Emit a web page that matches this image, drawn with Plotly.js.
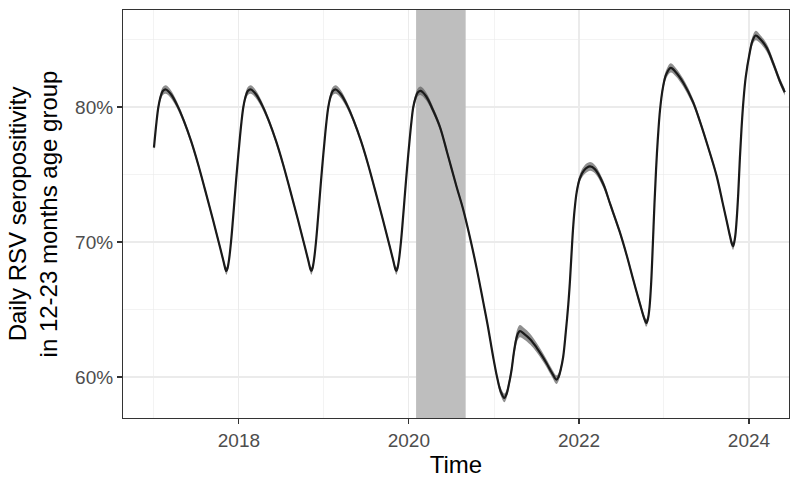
<!DOCTYPE html>
<html>
<head>
<meta charset="utf-8">
<script src="https://cdn.plot.ly/plotly-3.0.1.min.js"></script>
<style>html,body{margin:0;padding:0;background:#fff}#chart{width:804px;height:478px}</style>
</head>
<body>
<div id="chart"></div>
<script>
// Daily RSV seropositivity (%), 12-23 months age group
const dates = [
 '2017-01-01','2017-01-12','2017-01-20','2017-01-30','2017-02-09','2017-02-21','2017-03-15','2017-04-13','2017-05-10','2017-06-10','2017-07-09','2017-08-08','2017-09-13','2017-10-12','2017-10-27','2017-11-03','2017-11-08','2017-11-13','2017-11-20','2017-11-28','2017-12-06','2017-12-13','2017-12-20','2017-12-28',
 '2018-01-05','2018-01-12','2018-01-20','2018-01-30','2018-02-09','2018-02-21','2018-03-15','2018-04-13','2018-05-10','2018-06-10','2018-07-09','2018-08-08','2018-09-13','2018-10-12','2018-10-27','2018-11-03','2018-11-08','2018-11-13','2018-11-20','2018-11-28','2018-12-06','2018-12-13','2018-12-20','2018-12-28',
 '2019-01-05','2019-01-12','2019-01-20','2019-01-30','2019-02-09','2019-02-21','2019-03-15','2019-04-13','2019-05-10','2019-06-10','2019-07-09','2019-08-08','2019-09-13','2019-10-12','2019-10-27','2019-11-03','2019-11-08','2019-11-13','2019-11-20','2019-11-28','2019-12-06','2019-12-13','2019-12-20','2019-12-28',
 '2020-01-05','2020-01-12','2020-01-20','2020-01-30','2020-02-09','2020-02-21','2020-03-15','2020-04-13','2020-05-14','2020-06-14','2020-07-24','2020-08-20','2020-09-20','2020-10-20','2020-11-15','2020-12-05','2020-12-28',
 '2021-01-15','2021-01-30','2021-02-14','2021-02-24','2021-03-05','2021-03-17','2021-03-27','2021-04-05','2021-04-13','2021-04-22','2021-05-10','2021-06-05','2021-07-02','2021-07-25','2021-08-15','2021-09-05','2021-09-26','2021-10-05','2021-10-15','2021-10-25','2021-11-05','2021-11-16','2021-11-23','2021-11-29','2021-12-06','2021-12-13','2021-12-22',
 '2022-01-04','2022-01-22','2022-02-17','2022-03-10','2022-04-15','2022-05-15','2022-06-24','2022-07-25','2022-08-22','2022-09-20','2022-10-08','2022-10-17','2022-10-24','2022-10-31','2022-11-07','2022-11-14','2022-11-21','2022-11-28','2022-12-05','2022-12-15','2022-12-27',
 '2023-01-10','2023-01-30','2023-02-20','2023-03-25','2023-05-05','2023-06-05','2023-07-10','2023-08-15','2023-09-10','2023-09-28','2023-10-12','2023-10-20','2023-10-25','2023-11-02','2023-11-09','2023-11-16','2023-11-23','2023-11-30','2023-12-08','2023-12-18',
 '2024-01-04','2024-01-16','2024-01-30','2024-02-15','2024-03-17','2024-04-15','2024-05-12','2024-06-03'
];
const seropositivity = [
 77.0,78.9,80.0,80.8,81.2,81.3,80.95,80.05,78.95,77.45,75.8,73.9,71.55,69.6,68.55,68.05,67.85,68.05,68.75,70.0,71.6,73.1,74.6,76.2,
 77.7,78.9,80.0,80.8,81.2,81.3,80.95,80.05,78.95,77.45,75.8,73.9,71.55,69.6,68.55,68.05,67.85,68.05,68.75,70.0,71.6,73.1,74.6,76.2,
 77.7,78.9,80.0,80.8,81.2,81.3,80.95,80.05,78.95,77.45,75.8,73.9,71.55,69.6,68.55,68.05,67.85,68.05,68.75,70.0,71.6,73.1,74.6,76.2,
 77.7,78.9,80.0,80.7,81.1,81.2,80.8,79.8,78.5,76.6,74.1,72.5,70.3,67.9,65.6,63.8,61.5,
 59.9,58.9,58.45,58.75,59.4,60.5,61.8,62.7,63.2,63.4,63.2,62.8,62.2,61.6,61.0,60.35,59.8,60.0,60.6,61.5,63.3,65.4,67.1,68.9,70.9,72.4,73.7,
 74.7,75.3,75.6,75.4,74.3,72.8,70.8,69.0,67.2,65.4,64.35,64.0,64.3,65.2,67.0,69.8,72.8,75.4,77.5,79.8,81.4,
 82.4,82.9,82.6,81.8,80.4,78.9,77.0,74.9,72.9,71.5,70.4,69.85,69.7,70.3,71.6,73.6,76.2,78.4,80.4,82.2,
 84.0,84.9,85.3,85.1,84.4,83.2,81.95,81.1
];
const ciHalfWidth = [
 0.25,0.25,0.28,0.3,0.3,0.32,0.3,0.25,0.22,0.2,0.2,0.2,0.2,0.2,0.22,0.25,0.28,0.25,0.22,0.2,0.2,0.2,0.2,0.22,
 0.25,0.27,0.28,0.3,0.3,0.32,0.3,0.25,0.22,0.2,0.2,0.2,0.2,0.2,0.22,0.25,0.28,0.25,0.22,0.2,0.2,0.2,0.2,0.22,
 0.25,0.27,0.28,0.3,0.3,0.32,0.3,0.25,0.22,0.2,0.2,0.2,0.2,0.2,0.22,0.25,0.28,0.25,0.22,0.2,0.2,0.2,0.2,0.22,
 0.25,0.27,0.28,0.3,0.3,0.32,0.3,0.25,0.22,0.2,0.2,0.2,0.2,0.2,0.2,0.2,0.22,
 0.25,0.3,0.32,0.3,0.3,0.35,0.4,0.45,0.45,0.45,0.42,0.4,0.35,0.32,0.3,0.3,0.32,0.3,0.25,0.22,0.2,0.2,0.2,0.2,0.22,0.25,0.28,
 0.3,0.32,0.32,0.3,0.27,0.22,0.2,0.2,0.2,0.22,0.25,0.28,0.25,0.22,0.2,0.2,0.2,0.22,0.25,0.28,0.3,
 0.32,0.35,0.32,0.3,0.25,0.22,0.2,0.2,0.2,0.22,0.25,0.27,0.28,0.25,0.22,0.2,0.2,0.22,0.25,0.28,
 0.3,0.32,0.35,0.32,0.3,0.27,0.25,0.25
];
const shadeStart = '2020-02-01';
const shadeEnd = '2020-09-01';
const yTickVals = [60, 70, 80];
const yTickText = ['60%', '70%', '80%'];
const yMinorVals = [65, 75, 85];
const xRange = ['2016-08-21', '2024-06-21'];
const yRange = [56.96, 87.19];

const upper = seropositivity.map((v, i) => v + ciHalfWidth[i]);
const lower = seropositivity.map((v, i) => v - ciHalfWidth[i]);

const sm = 1.0;
const traces = [
  {x: [shadeStart, shadeEnd, shadeEnd, shadeStart, shadeStart], y: [yRange[0], yRange[0], yRange[1], yRange[1], yRange[0]],
   type: 'scatter', mode: 'lines', fill: 'toself', fillcolor: '#BEBEBE', line: {width: 0, color: '#BEBEBE'}, hoverinfo: 'skip', showlegend: false},
  {x: dates, y: upper, type: 'scatter', mode: 'lines', line: {width: 0, shape: 'spline', smoothing: sm}, hoverinfo: 'skip', showlegend: false},
  {x: dates, y: lower, type: 'scatter', mode: 'lines', line: {width: 0, shape: 'spline', smoothing: sm}, fill: 'tonexty', fillcolor: 'rgba(95,95,95,0.7)', hoverinfo: 'skip', showlegend: false},
  {x: dates, y: seropositivity, type: 'scatter', mode: 'lines', line: {color: '#1a1a1a', width: 2.2, shape: 'spline', smoothing: sm}, showlegend: false}
];

const layout = {
  width: 804, height: 478,
  margin: {l: 123, r: 15, t: 10, b: 60},
  paper_bgcolor: '#ffffff', plot_bgcolor: '#ffffff',
  font: {family: 'Liberation Sans, Arial, sans-serif', color: '#000000'},
  showlegend: false,
  xaxis: {
    type: 'date', range: xRange,
    tick0: '2018-01-01', dtick: 'M24', tickformat: '%Y',
    showgrid: true, gridcolor: '#EBEBEB', gridwidth: 1.1,
    minor: {dtick: 'M12', tick0: '2017-01-01', showgrid: true, gridcolor: '#EBEBEB', gridwidth: 0.6},
    ticks: 'outside', ticklen: 5, tickwidth: 1.1, tickcolor: '#333333',
    tickfont: {size: 19, color: '#4D4D4D'},
    showline: true, mirror: true, linecolor: '#333333', linewidth: 1.1,
    zeroline: false,
    title: {text: 'Time', font: {size: 24, color: '#000000'}, standoff: 4}
  },
  yaxis: {
    range: yRange,
    tickvals: yTickVals, ticktext: yTickText,
    showgrid: true, gridcolor: '#EBEBEB', gridwidth: 1.1,
    minor: {tickvals: yMinorVals, showgrid: true, gridcolor: '#EBEBEB', gridwidth: 0.6, ticks: ''},
    ticks: 'outside', ticklen: 5, tickwidth: 1.1, tickcolor: '#333333',
    tickfont: {size: 19, color: '#4D4D4D'},
    showline: true, mirror: true, linecolor: '#333333', linewidth: 1.1,
    zeroline: false,
    title: {text: 'Daily RSV seropositivity<br>in 12-23 months age group', font: {size: 24, color: '#000000'}, standoff: 10}
  }
};

Plotly.newPlot('chart', traces, layout, {staticPlot: true, displayModeBar: false});
</script>
</body>
</html>
